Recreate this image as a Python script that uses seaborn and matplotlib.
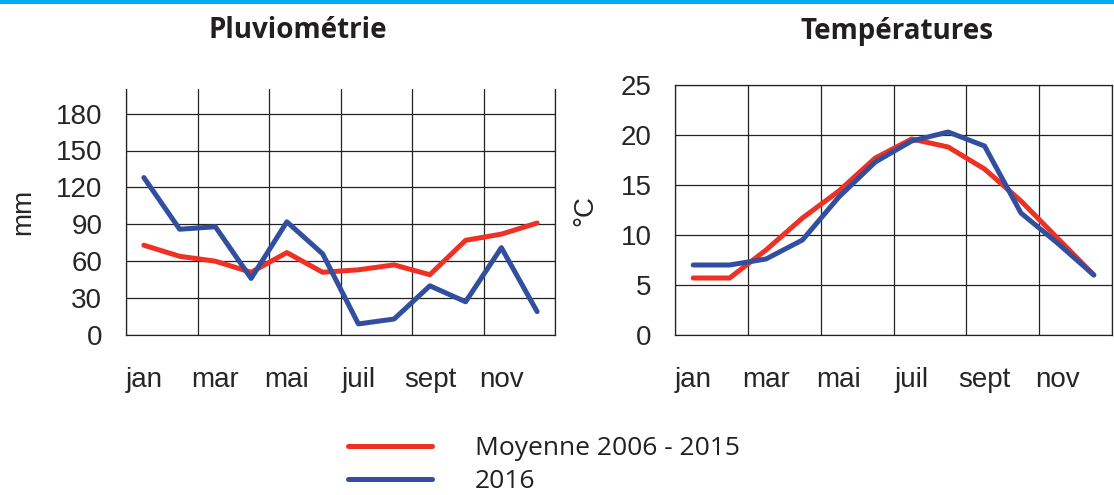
import numpy as np
import pandas as pd
import matplotlib
matplotlib.use('Agg')
import matplotlib.pyplot as plt
from matplotlib.patches import Rectangle
import seaborn as sns

# données
mois = ['jan', 'fev', 'mar', 'avr', 'mai', 'juin', 'juil', 'aout', 'sept', 'oct', 'nov', 'dec']
mois_affiches = ['jan', 'mar', 'mai', 'juil', 'sept', 'nov']

pluie_moyenne = [73, 64, 60, 51, 67, 51, 53, 57, 49, 77, 82, 91]
pluie_2016 = [128, 86, 88, 46, 92, 66, 9, 13, 40, 27, 71, 19]
temp_moyenne = [5.7, 5.7, 8.5, 11.7, 14.4, 17.7, 19.6, 18.8, 16.6, 13.4, 9.7, 6.0]
temp_2016 = [7.0, 7.0, 7.6, 9.5, 13.8, 17.3, 19.4, 20.3, 18.9, 12.2, 9.2, 6.0]

series = ['Moyenne 2006 - 2015', '2016']
couleurs = {'Moyenne 2006 - 2015': '#EE3124', '2016': '#324F9F'}

sns.set_theme(style='white')
plt.rcParams['font.family'] = ['Liberation Sans', 'DejaVu Sans']


def tableau(moyenne, annee):
    rows = []
    for i, m in enumerate(mois):
        rows.append({'idx': i, 'mois': m, 'valeur': moyenne[i], 'serie': series[0]})
        rows.append({'idx': i, 'mois': m, 'valeur': annee[i], 'serie': series[1]})
    return pd.DataFrame(rows)


pluie_df = tableau(pluie_moyenne, pluie_2016)
temp_df = tableau(temp_moyenne, temp_2016)

W, H = 1114, 495
fig = plt.figure(figsize=(W / 100, H / 100), dpi=100)
ax1 = fig.add_axes([126 / W, 1 - 335 / H, 429 / W, 246 / H])
ax2 = fig.add_axes([675 / W, 1 - 335 / H, 437 / W, 250 / H])

grille = '#222222'
for ax, df, ylim, yticks, ylabel in [
        (ax1, pluie_df, (0, 200), np.arange(0, 181, 30), 'mm'),
        (ax2, temp_df, (0, 25), np.arange(0, 26, 5), '°C')]:
    sns.lineplot(data=df, x='idx', y='valeur', hue='serie', hue_order=series,
                 palette=couleurs, linewidth=3.6, ax=ax, legend=False)
    ax.set_xlim(-0.5, 11.5)
    ax.set_ylim(*ylim)
    ax.set_xticks(np.arange(0, 12, 2))
    ax.set_xticklabels(mois_affiches)
    ax.set_xticks(np.arange(-0.5, 12, 2), minor=True)
    ax.set_yticks(yticks)
    ax.grid(which='minor', axis='x', color=grille, linewidth=0.9)
    ax.grid(which='major', axis='y', color=grille, linewidth=0.9)
    ax.tick_params(axis='x', which='major', length=0, pad=23, labelsize=20)
    ax.tick_params(axis='x', which='minor', length=6, width=0.9, color=grille, direction='out')
    ax.tick_params(axis='y', which='major', length=6, width=0.9, color=grille,
                   direction='out', pad=11, labelsize=20)
    ax.set_xlabel('')
    ax.set_ylabel(ylabel, fontsize=20)
    for spine in ax.spines.values():
        spine.set_color(grille)
        spine.set_linewidth(0.9)

ax1.spines['top'].set_visible(False)
ax1.yaxis.set_label_coords((36 - 126) / 429, 0.5)
ax2.yaxis.set_label_coords((598 - 675) / 437, 0.5)

fig.text(298 / W, 1 - 30 / H, 'Pluviométrie', fontsize=20, fontweight='bold',
         family='Open Sans', color='#231F20', ha='center', va='center')
fig.text(897 / W, 1 - 31 / H, 'Températures', fontsize=20, fontweight='bold',
         family='Open Sans', color='#231F20', ha='center', va='center')

# bandeau bleu en haut
fig.add_artist(Rectangle((0, 1 - 4 / H), 1, 4 / H, transform=fig.transFigure,
                         color='#00AEEF', lw=0))

handles = ax1.get_lines()[:2]
fig.legend(handles, series, loc='upper left', bbox_to_anchor=(348 / W, 1 - 436 / H),
           frameon=False, borderpad=0, borderaxespad=0,
           prop={'family': 'Open Sans', 'size': 19}, handlelength=3.2,
           handletextpad=1.6, labelspacing=0.3, labelcolor='#231F20')

fig.savefig('out.png', dpi=100)
